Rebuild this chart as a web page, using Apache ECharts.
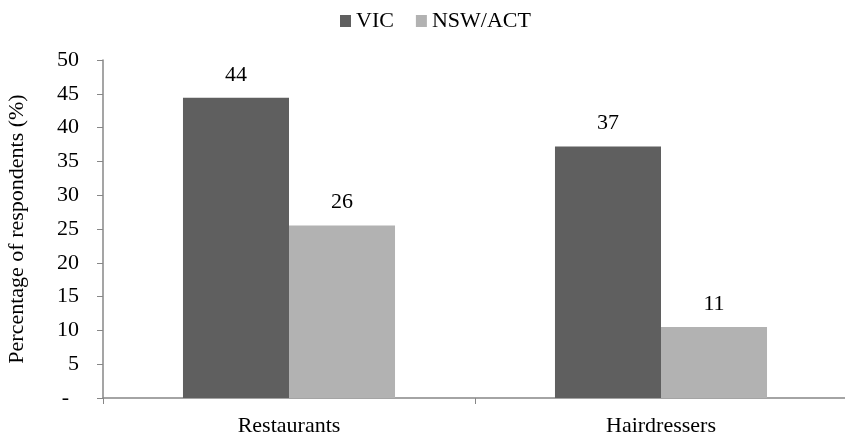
<!DOCTYPE html>
<html>
<head>
<meta charset="utf-8">
<script src="https://cdn.jsdelivr.net/npm/echarts@6/dist/echarts.min.js"></script>
<style>
  html, body { margin: 0; padding: 0; background: #fff; }
  #chart { width: 845px; height: 438px; }
</style>
</head>
<body>
<div id="chart"></div>
<script>
// Share of respondents by venue type, per state
const categories = ['Restaurants', 'Hairdressers'];
const seriesNames = ['VIC', 'NSW/ACT'];
const vicValues = [44.4, 37.2];
const nswActValues = [25.5, 10.5];
const yTicks = [0, 5, 10, 15, 20, 25, 30, 35, 40, 45, 50];
const yTitle = 'Percentage of respondents (%)';

const FONT = '"Liberation Serif", "Times New Roman", serif';
const FS = 22;
const AXIS_GRAY = '#878787';

const chart = echarts.init(document.getElementById('chart'), null, { renderer: 'canvas' });

const valueLabel = {
  show: true,
  position: 'top',
  distance: 12,
  color: '#000',
  fontFamily: FONT,
  fontSize: FS,
  formatter: p => String(Math.round(p.value))
};

chart.setOption({
  animation: false,
  backgroundColor: '#fff',
  legend: {
    data: seriesNames,
    left: 335,
    top: 5,
    itemWidth: 11,
    itemHeight: 12,
    itemGap: 22,
    icon: 'rect',
    textStyle: { fontFamily: FONT, fontSize: FS, color: '#000' }
  },
  grid: {
    left: 103, top: 60, width: 744, height: 338,
    containLabel: false,
    outerBoundsMode: 'none'
  },
  xAxis: {
    type: 'category',
    data: categories,
    axisLine: { lineStyle: { color: AXIS_GRAY, width: 1.5 } },
    axisTick: { show: true, length: 6, alignWithLabel: false, lineStyle: { color: AXIS_GRAY } },
    axisLabel: { margin: 17, color: '#000', fontFamily: FONT, fontSize: FS },
    splitLine: { show: false }
  },
  yAxis: {
    type: 'value',
    min: yTicks[0],
    max: yTicks[yTicks.length - 1],
    interval: yTicks[1] - yTicks[0],
    name: yTitle,
    nameLocation: 'middle',
    nameRotate: 90,
    nameGap: 75,
    nameTextStyle: { fontFamily: FONT, fontSize: FS, color: '#000' },
    axisLine: { show: true, lineStyle: { color: AXIS_GRAY, width: 1.5 } },
    axisTick: { show: true, length: 6, lineStyle: { color: AXIS_GRAY } },
    axisLabel: {
      margin: 24,
      color: '#000',
      fontFamily: FONT,
      fontSize: FS,
      // zero is shown as a dash, set in from the right like an accounting format
      formatter: v => (v === 0 ? '{z|-}' : String(v)),
      rich: { z: { fontFamily: FONT, fontSize: FS, color: '#000', padding: [0, 10, 0, 0] } }
    },
    splitLine: { show: false }
  },
  series: [
    {
      name: seriesNames[0],
      type: 'bar',
      data: vicValues,
      itemStyle: { color: '#5f5f5f' },
      barGap: '0%',
      barCategoryGap: '43%',
      label: valueLabel
    },
    {
      name: seriesNames[1],
      type: 'bar',
      data: nswActValues,
      itemStyle: { color: '#b2b2b2' },
      label: valueLabel
    }
  ]
});
</script>
</body>
</html>
